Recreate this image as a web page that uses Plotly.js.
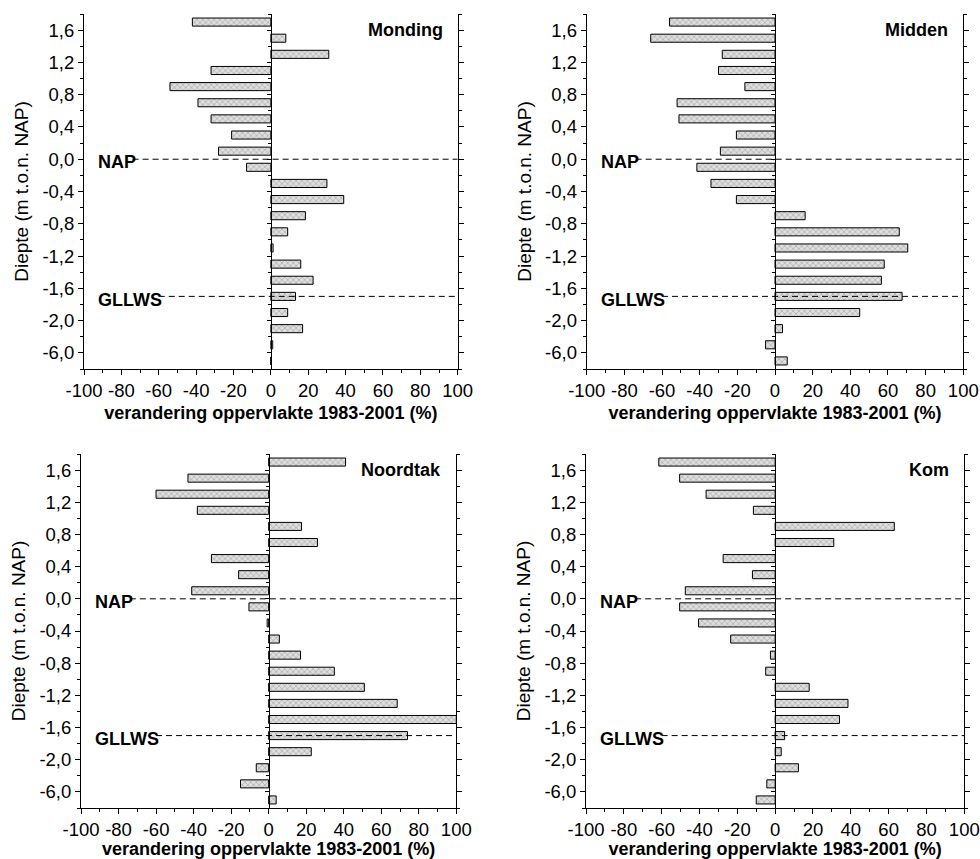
<!DOCTYPE html>
<html>
<head>
<meta charset="utf-8">
<script src="https://cdn.plot.ly/plotly-3.0.1.min.js"></script>
<style>html,body{margin:0;padding:0;background:#fff;}#chart{width:980px;height:859px;}</style>
</head>
<body>
<div id="chart"></div>
<script>
// Depth classes (bar centres on the compressed depth scale, top to bottom)
const depthBins = [1.7, 1.5, 1.3, 1.1, 0.9, 0.7, 0.5, 0.3, 0.1, -0.1, -0.3, -0.5, -0.7, -0.9, -1.1, -1.3, -1.5, -1.7, -1.9, -2.1, -2.3, -2.5];
const depthTickPos = [1.6, 1.2, 0.8, 0.4, 0.0, -0.4, -0.8, -1.2, -1.6, -2.0, -2.4];
const depthTickLabels = ['1,6', '1,2', '0,8', '0,4', '0,0', '-0,4', '-0,8', '-1,2', '-1,6', '-2,0', '-6,0'];
const xTickVals = [-100, -80, -60, -40, -20, 0, 20, 40, 60, 80, 100];
const xTickLabels = ['-100', '-80', '-60', '-40', '-20', '0', '20', '40', '60', '80', '100'];

const panelNames = ['Monding', 'Midden', 'Noordtak', 'Kom'];
const monding  = [-42, 8, 31, -32, -54, -39, -32, -21, -28, -13, 30, 39, 18.5, 9, 1.2, 16, 22.6, 13.2, 9, 17, 1, 0];
const midden   = [-56, -66, -28, -30, -16, -52, -51, -20.5, -29, -41.5, -34, -20.5, 16, 66, 70.5, 58, 56.5, 67.5, 45, 4, -5, 6.5];
const noordtak = [41, -43, -60, -38, 17.5, 26, -30.5, -16, -41, -10.5, -0.8, 5.7, 17, 35, 51, 68.5, 100, 74, 22.7, -6.6, -15, 4];
const kom      = [-61.5, -50.5, -36.5, -11.5, 63, 31, -27.5, -12, -47.5, -50.5, -40.5, -23.5, -2.5, -5, 18, 38.5, 34, 5, 3.2, 12.3, -4.4, -10];
const panelValues = [monding, midden, noordtak, kom];

const refLevels = [{name: 'NAP', y: 0, lineStart: -74}, {name: 'GLLWS', y: -1.7, lineStart: -60}];

const FONT = 'Liberation Sans, Arial, sans-serif';
const W = 980, H = 859;
// pixel boxes of the four plot areas [x0, x1, yTop, yBottom]
const boxes = [
  [84, 457.7, 14, 369],
  [586.7, 963.3, 14, 369],
  [81, 456.3, 454, 808],
  [586, 964.3, 454, 808]
];

const minorY = [];
for (let v = 1.8; v >= -2.61; v -= 0.2) minorY.push(Math.round(v * 10) / 10);

const traces = [];
const layout = {
  width: W, height: H,
  margin: {l: 0, r: 0, t: 0, b: 0},
  paper_bgcolor: '#fff', plot_bgcolor: 'rgba(0,0,0,0)',
  showlegend: false,
  font: {family: FONT, size: 18, color: '#000'},
  shapes: [], annotations: [],
  bargap: 0
};

panelValues.forEach((vals, i) => {
  const k = i + 1;
  const b = boxes[i];
  const xd = [b[0] / W, b[1] / W];
  const yd = [1 - b[3] / H, 1 - b[2] / H];
  const xs = 'x' + k, ys = 'y' + k;
  traces.push({
    type: 'bar', orientation: 'h',
    x: vals, y: depthBins, width: 0.1,
    xaxis: xs, yaxis: ys,
    marker: {
      color: '#d4d4d4',
      line: {color: '#000', width: 1},
      pattern: {shape: 'x', fgcolor: '#9a9a9a', bgcolor: '#dedede', size: 4, solidity: 0.25}
    },
    hoverinfo: 'x+y'
  });
  layout['xaxis' + k] = {
    domain: xd, anchor: ys, range: [-100, 100], fixedrange: true,
    tickmode: 'array', tickvals: xTickVals, ticktext: xTickLabels,
    ticks: 'outside', ticklen: 5, tickcolor: '#000', tickwidth: 1,
    minor: {tickmode: 'array', tickvals: [-90, -70, -50, -30, -10, 10, 30, 50, 70, 90], ticks: 'outside', ticklen: 3, tickcolor: '#000'},
    showline: true, linecolor: '#000', linewidth: 1, mirror: false,
    showgrid: false, zeroline: false,
    tickfont: {family: FONT, size: 18.5},
    title: {text: 'verandering oppervlakte 1983-2001 (%)', font: {family: FONT, size: 18, weight: 'bold'}, standoff: 6}
  };
  layout['yaxis' + k] = {
    domain: yd, anchor: xs, range: [-2.6, 1.8], fixedrange: true,
    tickmode: 'array', tickvals: depthTickPos, ticktext: depthTickLabels,
    ticks: 'outside', ticklen: 5, tickcolor: '#000', tickwidth: 1,
    minor: {tickmode: 'array', tickvals: minorY, ticks: 'outside', ticklen: 3, tickcolor: '#000'},
    showline: true, linecolor: '#000', linewidth: 1, mirror: 'ticks',
    showgrid: false, zeroline: false,
    tickfont: {family: FONT, size: 18.5},
    title: {text: 'Diepte (m t.o.n. NAP)', font: {family: FONT, size: 19}, standoff: 8}
  };
  // axis at x = 0
  layout['yaxis' + (k + 4)] = {
    overlaying: ys, anchor: 'free', position: (xd[0] + xd[1]) / 2,
    range: [-2.6, 1.8], fixedrange: true, domain: yd,
    tickmode: 'array', tickvals: depthTickPos, showticklabels: false,
    ticks: 'outside', ticklen: 4, tickcolor: '#000',
    minor: {tickmode: 'array', tickvals: minorY, ticks: 'outside', ticklen: 3, tickcolor: '#000'},
    showline: true, linecolor: '#000', linewidth: 1,
    showgrid: false, zeroline: false, side: 'left'
  };
  // invisible trace so the centre axis is drawn
  traces.push({type: 'scatter', x: [0], y: [0], xaxis: xs, yaxis: 'y' + (k + 4), mode: 'markers', marker: {opacity: 0}, hoverinfo: 'skip'});

  refLevels.forEach(r => {
    layout.shapes.push({
      type: 'line', xref: xs, yref: ys, x0: r.lineStart, x1: 100, y0: r.y, y1: r.y,
      line: {color: '#000', width: 1, dash: '6px,4px'}, layer: 'above'
    });
    layout.annotations.push({
      xref: xs, yref: ys, x: -93.5, y: r.y - 0.04, xanchor: 'left', yanchor: 'middle',
      text: '<b>' + r.name + '</b>', showarrow: false, font: {family: FONT, size: 18, color: '#000'}
    });
  });
  layout.annotations.push({
    xref: xs + ' domain', yref: ys, x: 0.965, y: 1.6, xanchor: 'right', yanchor: 'middle',
    text: '<b>' + panelNames[i] + '</b>', showarrow: false, font: {family: FONT, size: 18, color: '#000'}
  });
});

Plotly.newPlot('chart', traces, layout, {staticPlot: true, displayModeBar: false});
</script>
</body>
</html>
